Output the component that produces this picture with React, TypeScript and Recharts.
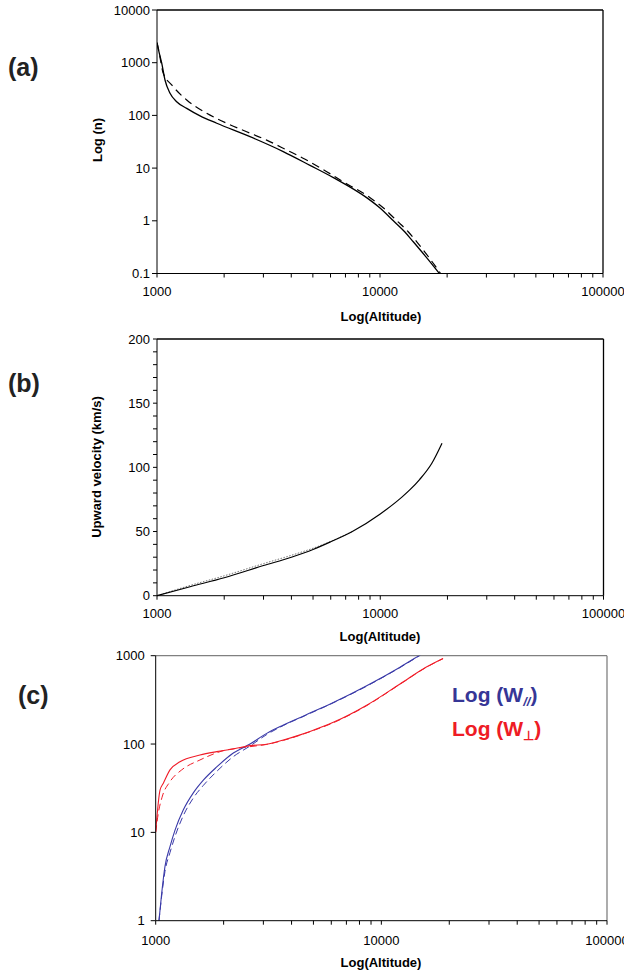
import { Line, LineChart, ReferenceLine, XAxis, YAxis } from "recharts";

const FONT = '"Liberation Sans", Arial, Helvetica, sans-serif';

// tick lists
const altTicks = [1000, 2000, 3000, 4000, 5000, 6000, 7000, 8000, 9000, 10000, 20000, 30000, 40000, 50000, 60000, 70000, 80000, 90000, 100000];
const altLabels = [1000, 10000, 100000];
const nTicks = [0.1, 1, 10, 100, 1000, 10000];
const velTicks = [0, 10, 20, 30, 40, 50, 60, 70, 80, 90, 100, 110, 120, 130, 140, 150, 160, 170, 180, 190, 200];
const velLabels = [0, 50, 100, 150, 200];
const wTicks = [1, 10, 100, 1000];

// (a) density
const nSolidAlt = [1000, 1020, 1050, 1086, 1144, 1225, 1359, 1560, 1853, 2613, 3682, 4853, 6180, 8710, 10000, 11480, 12900, 14100, 16180, 18460];
const nSolid = [2400, 1630, 980, 470, 263, 182, 136, 98, 71, 39.5, 20.6, 11.3, 6.6, 2.75, 1.75, 1.0, 0.62, 0.4, 0.2, 0.1];
const nDashAlt = [1000, 1020, 1067, 1164, 1359, 1671, 2054, 2523, 3103, 3818, 4616, 5770, 6842, 9030, 10370, 11900, 13380, 14620, 16600, 18700];
const nDash = [2400, 1630, 630, 378, 196, 110, 71, 49, 34, 22, 14.7, 8.55, 5.5, 2.75, 1.75, 1.0, 0.62, 0.4, 0.2, 0.1];

// (b) upward velocity
const vSolidAlt = [1000, 1406, 2000, 3000, 4000, 5000, 6000, 7500, 10000, 12500, 13630, 15000, 17000, 18910];
const vSolid = [0, 7, 14, 23.5, 30, 36, 42, 50, 63.7, 76.8, 82.8, 90.5, 103, 118.8];
const vDotAlt = [1000, 1406, 2000, 3000, 4000, 5000, 6000, 7500];
const vDot = [0, 8, 15.5, 25, 31.5, 37, 42.3, 50];

// (c) W parallel / perpendicular
const wParAlt = [1034, 1063, 1099, 1157, 1218, 1326, 1468, 1626, 1864, 2208, 2618, 3104, 3681, 4600, 6125, 8610, 12100, 14850, 16700];
const wPar = [1, 2.04, 4.1, 6.9, 10.6, 18, 28, 39, 55, 79, 100, 132, 164, 212, 295, 457, 741, 1018, 1222];
const wParDashAlt = [1034, 1063, 1099, 1157, 1218, 1326, 1468, 1626, 1864, 2208, 2618, 3104, 3681, 4600, 6125, 8610, 12100, 14850];
const wParDash = [1, 1.9, 3.6, 5.9, 9, 15.5, 24.5, 34, 49, 72, 95, 128, 162, 210, 293, 452, 735, 1010];
const wPerpAlt = [1000, 1045, 1081, 1157, 1281, 1571, 1864, 2208, 2618, 3104, 3681, 4365, 4831, 6125, 8610, 12100, 15830, 18760];
const wPerp = [10.2, 30, 36, 51, 63, 75, 82, 88, 96, 99.5, 111, 127, 139, 176, 275, 479, 745, 933];
const wPerpDashAlt = [1000, 1027, 1067, 1157, 1304, 1571, 1928, 2618, 3104, 3681, 4365, 4831, 6125, 8610, 12100, 15830, 18760];
const wPerpDash = [10, 16.5, 25, 37.5, 51, 66, 82, 93.4, 99, 110, 126, 138, 174, 272, 475, 740, 925];

const zip = (xs: number[], ys: number[]) => xs.map((x, i) => ({ x, y: ys[i] }));

const XTick = (p: any) =>
  altLabels.includes(p.payload.value) ? (
    <text x={p.x} y={p.y} dy="0.71em" textAnchor="middle" fontSize={13} fontFamily={FONT} fill="#000">
      {p.payload.value}
    </text>
  ) : (
    <g />
  );

const makeYTick = (labels: number[] | null) => (p: any) =>
  !labels || labels.includes(p.payload.value) ? (
    <text x={p.x} y={p.y} dy="0.36em" textAnchor="end" fontSize={13} fontFamily={FONT} fill="#000">
      {p.payload.value}
    </text>
  ) : (
    <g />
  );

const xBottom = (margin: number) => (
  <XAxis xAxisId="b" type="number" dataKey="x" scale="log" domain={[1000, 100000]} allowDataOverflow ticks={altTicks} interval={0} tick={XTick} tickSize={4} tickMargin={margin} height={30} stroke="#000" />
);

// top and right edges of the plot box
const frame = (yTop: number, color: string) => [
  <ReferenceLine key="t" xAxisId="b" yAxisId="l" y={yTop} stroke={color} strokeWidth={1.3} />,
  <ReferenceLine key="r" xAxisId="b" yAxisId="l" x={100000} stroke={color} strokeWidth={1.3} />,
];

export default function App() {
  return (
    <div style={{ position: "absolute", left: 0, top: 0, width: 624, height: 974, background: "#fff", fontFamily: FONT }}>
      <div style={{ position: "absolute", left: 0, top: 0 }}>
        <LineChart width={624} height={330} margin={{ top: 10, right: 21, bottom: 26.5, left: 0 }}>
          {xBottom(9)}
          <YAxis yAxisId="l" type="number" scale="log" domain={[0.1, 10000]} allowDataOverflow ticks={nTicks} interval={0} tick={makeYTick(null)} width={157} tickSize={5} tickMargin={2} stroke="#000" />
          {frame(10000, "#000")}
          <Line xAxisId="b" yAxisId="l" data={zip(nDashAlt, nDash)} dataKey="y" type="monotone" stroke="#000" strokeWidth={1.2} strokeDasharray="8 5" dot={false} isAnimationActive={false} />
          <Line xAxisId="b" yAxisId="l" data={zip(nSolidAlt, nSolid)} dataKey="y" type="monotone" stroke="#000" strokeWidth={1.3} dot={false} isAnimationActive={false} />
        </LineChart>
      </div>
      <div style={{ position: "absolute", left: 0, top: 330 }}>
        <LineChart width={624} height={310} margin={{ top: 9, right: 20.5, bottom: 14.3, left: 0 }}>
          {xBottom(9)}
          <YAxis yAxisId="l" type="number" domain={[0, 200]} ticks={velTicks} interval={0} tick={makeYTick(velLabels)} width={157} tickSize={4} tickMargin={3} stroke="#000" />
          {frame(200, "#000")}
          <Line xAxisId="b" yAxisId="l" data={zip(vDotAlt, vDot)} dataKey="y" type="monotone" stroke="#777" strokeWidth={1} strokeDasharray="1.5 1.5" dot={false} isAnimationActive={false} />
          <Line xAxisId="b" yAxisId="l" data={zip(vSolidAlt, vSolid)} dataKey="y" type="monotone" stroke="#000" strokeWidth={1.2} dot={false} isAnimationActive={false} />
        </LineChart>
      </div>
      <div style={{ position: "absolute", left: 0, top: 640 }}>
        <LineChart width={624} height={334} margin={{ top: 15.7, right: 17, bottom: 23.3, left: 0 }}>
          {xBottom(11)}
          <YAxis yAxisId="l" type="number" scale="log" domain={[1, 1000]} allowDataOverflow ticks={wTicks} interval={0} tick={makeYTick(null)} width={155.7} tickSize={5} tickMargin={6} stroke="#000" />
          {frame(1000, "#808080")}
          <Line xAxisId="b" yAxisId="l" data={zip(wParDashAlt, wParDash)} dataKey="y" type="monotone" stroke="#3a3aa8" strokeWidth={1} strokeDasharray="7 4" dot={false} isAnimationActive={false} />
          <Line xAxisId="b" yAxisId="l" data={zip(wPerpDashAlt, wPerpDash)} dataKey="y" type="monotone" stroke="#f01c28" strokeWidth={1} strokeDasharray="7 4" dot={false} isAnimationActive={false} />
          <Line xAxisId="b" yAxisId="l" data={zip(wParAlt, wPar)} dataKey="y" type="monotone" stroke="#3a3aa8" strokeWidth={1.1} dot={false} isAnimationActive={false} />
          <Line xAxisId="b" yAxisId="l" data={zip(wPerpAlt, wPerp)} dataKey="y" type="monotone" stroke="#f01c28" strokeWidth={1.1} dot={false} isAnimationActive={false} />
        </LineChart>
      </div>
      <svg width={624} height={974} style={{ position: "absolute", left: 0, top: 0, pointerEvents: "none" }} fontFamily={FONT}>
        <g fontWeight="bold" fontSize={25} fill="#222">
          <text x={8} y={76}>(a)</text>
          <text x={8} y={392}>(b)</text>
          <text x={18} y={704}>(c)</text>
        </g>
        <g fontWeight="bold" fontSize={13} fill="#000" textAnchor="middle">
          <text x={381} y={320.5}>Log(Altitude)</text>
          <text x={380} y={641}>Log(Altitude)</text>
          <text x={381} y={967}>Log(Altitude)</text>
          <text transform="translate(101.5,140) rotate(-90)">Log (n)</text>
          <text transform="translate(100.5,467) rotate(-90)">Upward velocity (km/s)</text>
        </g>
        <g fontWeight="bold" fontSize={21}>
          <text x={452} y={702} fill="#363696">
            Log (W<tspan dy={4} fontSize={13} fontStyle="italic">//</tspan><tspan dy={-4}>)</tspan>
          </text>
          <text x={452} y={736} fill="#ee1c25">
            Log (W<tspan dy={4} fontSize={13}>⊥</tspan><tspan dy={-4}>)</tspan>
          </text>
        </g>
      </svg>
    </div>
  );
}
